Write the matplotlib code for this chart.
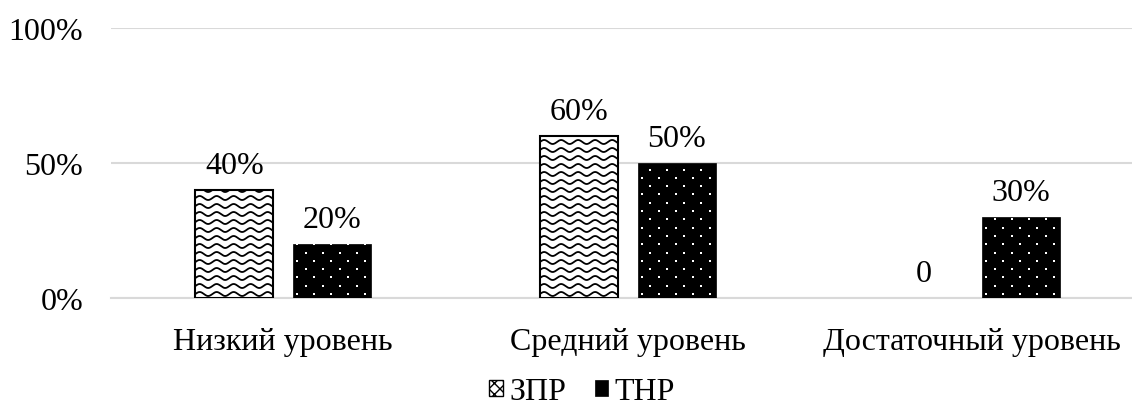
import matplotlib
matplotlib.use("Agg")
import matplotlib.pyplot as plt
import numpy as np
from matplotlib.patches import Patch

categories = ["Низкий уровень", "Средний уровень", "Достаточный уровень"]
series_names = ["ЗПР", "ТНР"]
zpr_values = [40, 60, 0]
tnr_values = [20, 50, 30]
y_ticks = [0, 50, 100]

plt.rcParams["font.family"] = ["Liberation Serif", "DejaVu Serif"]
FS = 23

W, H = 1132, 410
fig = plt.figure(figsize=(W / 100, H / 100), dpi=100)
ax = fig.add_axes([111 / W, (H - 299) / H, (W - 111) / W, 270 / H])

x = np.arange(len(categories))
bw = 0.226
off = 0.142

b1 = ax.bar(x - off, zpr_values, bw, facecolor="white", edgecolor="black", linewidth=1.5, zorder=3)
b2 = ax.bar(x + off, tnr_values, bw, facecolor="black", edgecolor="black", linewidth=0.5, zorder=3)
for bar in list(b1) + list(b2):
    if bar.get_height() == 0:
        bar.set_linewidth(0)

# wavy fill for the first series, white dots for the second, clipped to each bar
px = 1 / 344.5  # data units per pixel in x
py = 100 / 270  # data units per pixel in y
for bar in b1:
    x0, y0 = bar.get_x(), bar.get_y()
    w, h = bar.get_width(), bar.get_height()
    if h <= 0:
        continue
    xs = np.linspace(x0, x0 + w, 200)
    for yy in np.arange(y0 + 4 * py, y0 + h + 8 * py, 8 * py):
        ys = yy + 2.0 * py * np.sin(2 * np.pi * (xs - x0) / (17 * px))
        ln, = ax.plot(xs, ys, color="black", linewidth=1.3, zorder=4)
        ln.set_clip_path(bar)

for bar in b2:
    x0, y0 = bar.get_x(), bar.get_y()
    w, h = bar.get_width(), bar.get_height()
    pts_x, pts_y = [], []
    for i, yy in enumerate(np.arange(y0 + 4 * py, y0 + h, 8.3 * py)):
        shift = 0 if i % 2 == 0 else 8.5 * px
        for xx in np.arange(x0 + 4 * px + shift, x0 + w, 17 * px):
            pts_x.append(xx)
            pts_y.append(yy)
    sc = ax.scatter(pts_x, pts_y, s=2.5, color="white", marker="s", linewidths=0, zorder=4)
    sc.set_clip_path(bar)

fmt = lambda v: "0" if v == 0 else f"{v:g}%"
ax.bar_label(b1, labels=[fmt(v) for v in zpr_values], padding=7, fontsize=FS, zorder=5)
ax.bar_label(b2, labels=[fmt(v) for v in tnr_values], padding=7, fontsize=FS, zorder=5)

ax.set_xlim(-0.5, -0.5 + (W - 111) / 344.5)
ax.set_ylim(0, 100)
ax.set_yticks(y_ticks)
ax.set_yticklabels([f"{t}%" for t in y_ticks], fontsize=FS)
ax.set_xticks(x)
ax.set_xticklabels(categories, fontsize=FS)
ax.tick_params(axis="x", length=0, pad=21)
ax.tick_params(axis="y", length=0, pad=20)
ax.yaxis.grid(True, color="#d9d9d9", linewidth=1.5, zorder=0)
ax.set_axisbelow(True)
for s in ["top", "right", "left"]:
    ax.spines[s].set_visible(False)
ax.spines["bottom"].set_color("#d9d9d9")
ax.spines["bottom"].set_linewidth(1.5)

handles = [
    Patch(facecolor="white", edgecolor="black", hatch="xxx", label=series_names[0]),
    Patch(facecolor="black", edgecolor="black", linewidth=0.5, label=series_names[1]),
]
fig.legend(handles=handles, loc="center", bbox_to_anchor=(582 / W, 1 - 393 / H), ncol=2,
           frameon=False, fontsize=FS, handlelength=0.42, handleheight=0.42,
           handletextpad=0.2, columnspacing=0.9, borderpad=0)

fig.savefig("out.png", dpi=100)
